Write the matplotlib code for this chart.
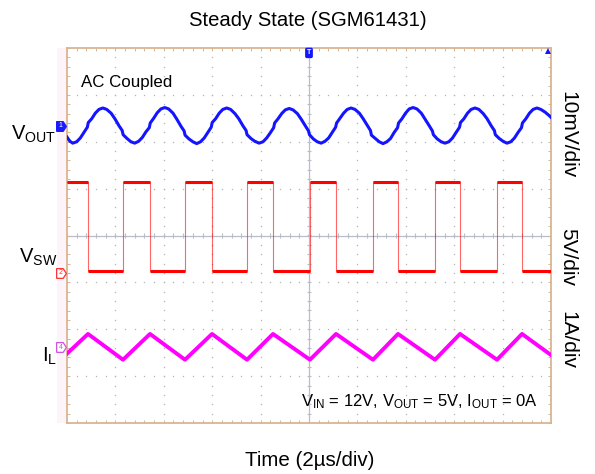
import numpy as np
import matplotlib
matplotlib.use("Agg")
import matplotlib.pyplot as plt
from matplotlib.patches import Rectangle
from matplotlib.ticker import MultipleLocator

plt.rcParams['font.family'] = ['Liberation Sans', 'DejaVu Sans']
plt.rcParams['mathtext.fontset'] = 'custom'
plt.rcParams['mathtext.rm'] = 'Liberation Sans'
plt.rcParams['mathtext.it'] = 'Liberation Sans:italic'

W, H = 595, 474

# scope screen: x in divisions (2us/div), y in divisions (8 div tall, 0 = centre)
vout_t = [0.0, 0.06,
          0.12, 0.20, 0.275, 0.35, 0.42, 0.44, 0.51, 0.585, 0.66, 0.74, 0.82, 0.91, 0.99, 1.075, 1.14, 1.16, 1.24, 1.32,
          1.40, 1.48, 1.555, 1.63, 1.70, 1.72, 1.79, 1.865, 1.94, 2.02, 2.10, 2.19, 2.27, 2.355, 2.42, 2.44, 2.52, 2.60,
          2.68, 2.76, 2.835, 2.91, 2.98, 3.00, 3.07, 3.145, 3.22, 3.30, 3.38, 3.47, 3.55, 3.635, 3.70, 3.72, 3.80, 3.88,
          3.97, 4.05, 4.125, 4.20, 4.27, 4.29, 4.36, 4.435, 4.51, 4.59, 4.67, 4.76, 4.84, 4.925, 4.99, 5.01, 5.09, 5.17,
          5.25, 5.33, 5.405, 5.48, 5.55, 5.57, 5.64, 5.715, 5.79, 5.87, 5.95, 6.04, 6.12, 6.205, 6.27, 6.29, 6.37, 6.45,
          6.53, 6.61, 6.685, 6.76, 6.83, 6.85, 6.92, 6.995, 7.07, 7.15, 7.23, 7.32, 7.40, 7.485, 7.55, 7.57, 7.65, 7.73,
          7.81, 7.89, 7.965, 8.04, 8.11, 8.13, 8.20, 8.275, 8.35, 8.43, 8.51, 8.60, 8.68, 8.765, 8.83, 8.85, 8.93, 9.01,
          9.09, 9.17, 9.245, 9.32, 9.39, 9.41, 9.48, 9.555, 9.63, 9.71, 9.79, 9.88, 9.96, 10.0]
vout_v = [2.10, 2.01,
          1.97, 2.00, 2.08, 2.20, 2.31, 2.41, 2.49, 2.61, 2.69, 2.72, 2.69, 2.61, 2.49, 2.34, 2.24, 2.15, 2.07, 2.00,
          1.97, 2.01, 2.09, 2.21, 2.30, 2.40, 2.50, 2.62, 2.70, 2.73, 2.70, 2.61, 2.48, 2.33, 2.23, 2.14, 2.06, 2.00,
          1.96, 2.00, 2.08, 2.20, 2.31, 2.41, 2.49, 2.61, 2.69, 2.72, 2.69, 2.60, 2.49, 2.34, 2.24, 2.15, 2.07, 2.01,
          1.97, 2.00, 2.08, 2.19, 2.30, 2.40, 2.49, 2.60, 2.68, 2.71, 2.68, 2.60, 2.48, 2.34, 2.23, 2.15, 2.06, 2.00,
          1.97, 2.01, 2.08, 2.20, 2.31, 2.40, 2.50, 2.61, 2.69, 2.72, 2.69, 2.61, 2.49, 2.35, 2.24, 2.14, 2.07, 2.00,
          1.96, 2.00, 2.07, 2.20, 2.30, 2.40, 2.49, 2.61, 2.70, 2.73, 2.70, 2.61, 2.48, 2.34, 2.23, 2.15, 2.06, 2.00,
          1.97, 2.00, 2.08, 2.20, 2.31, 2.41, 2.49, 2.61, 2.69, 2.72, 2.69, 2.60, 2.49, 2.34, 2.24, 2.15, 2.07, 2.01,
          1.97, 2.00, 2.08, 2.20, 2.30, 2.40, 2.49, 2.61, 2.69, 2.72, 2.69, 2.63, 2.56, 2.52]

vsw_fall = [0.434, 1.715, 2.996, 4.256, 5.558, 6.839, 8.12, 9.401]
vsw_rise = [1.157, 2.438, 3.719, 5.02, 6.322, 7.603, 8.884]
vsw_high = 1.14
vsw_low = -0.76

il_t = [0.0, 0.434, 1.157, 1.715, 2.438, 2.996, 3.719, 4.256, 5.02,
        5.558, 6.322, 6.839, 7.603, 8.12, 8.884, 9.401, 10.0]
il_v = [-2.52, -2.10, -2.65, -2.10, -2.65, -2.10, -2.65, -2.10, -2.65,
        -2.10, -2.65, -2.10, -2.65, -2.10, -2.65, -2.10, -2.55]

ch_names = ["1", "2", "4"]
ch_levels = [2.34, -0.80, -2.38]
ch_colors = ["#1a1aff", "#ff3030", "#d050e0"]
ch_filled = [True, False, False]

BLUE = "#1414ff"
RED = "#ff0000"
MAG = "#ff00ff"
FRAME = "#dab592"
GRID = "#b4b4b4"

fig = plt.figure(figsize=(W / 100, H / 100), dpi=100)
fig.patches.append(Rectangle((57 / W, 1 - 423 / H), 10 / W, 375 / H, transform=fig.transFigure,
                             facecolor="#fdf4fa", edgecolor="none", zorder=-1))
ax = fig.add_axes([67 / W, 1 - 423 / H, 484 / W, 375 / H])
ax.set_xlim(0, 10)
ax.set_ylim(-4, 4)

# dotted graticule
gx, gy = np.meshgrid([1, 2, 3, 4, 6, 7, 8, 9], np.arange(-4, 4.01, 0.2))
ax.plot(gx.ravel(), gy.ravel(), ls="none", marker="s", ms=0.9, mew=0, color=GRID, zorder=1)
gx, gy = np.meshgrid(np.arange(0, 10.01, 0.2), [-3, -2, -1, 1, 2, 3])
ax.plot(gx.ravel(), gy.ravel(), ls="none", marker="s", ms=0.9, mew=0, color=GRID, zorder=1)

# centre crosshair with tick marks
ax.axhline(0, color="#b9bdc9", lw=0.9, zorder=1)
ax.axvline(5, color="#b9bdc9", lw=0.9, zorder=1)
ax.vlines(np.arange(0, 10.01, 0.2), -0.06, 0.06, color="#b9bdc9", lw=0.8, zorder=1)
ax.hlines(np.arange(-4, 4.01, 0.2), 4.96, 5.04, color="#b9bdc9", lw=0.8, zorder=1)

for s in ax.spines.values():
    s.set_color(FRAME)
    s.set_linewidth(1.3)
ax.xaxis.set_major_locator(MultipleLocator(0.2))
ax.yaxis.set_major_locator(MultipleLocator(0.2))
ax.tick_params(which="both", direction="in", top=True, right=True, length=2.5,
               width=0.7, color=FRAME, labelbottom=False, labelleft=False)

# VSW: thin edges, thick noisy levels
edges = sorted([(t, vsw_low) for t in vsw_fall] + [(t, vsw_high) for t in vsw_rise])
sx, sy = [0.0], [vsw_high]
level = vsw_high
for t, new in edges:
    sx += [t, t]
    sy += [level, new]
    level = new
sx.append(10.0)
sy.append(level)
ax.plot(sx, sy, color=RED, lw=0.8, alpha=0.6, zorder=3)
for i in range(len(sx) - 1):
    if sy[i] == sy[i + 1] and sx[i + 1] > sx[i]:
        ax.plot([sx[i], sx[i + 1]], [sy[i], sy[i + 1]], color=RED, lw=2.2, zorder=3,
                solid_capstyle="butt")

ax.plot(vout_t, vout_v, color=BLUE, lw=2.2, zorder=4, solid_joinstyle="round")
ax.plot(il_t, il_v, color=MAG, lw=2.8, zorder=4)

# channel markers just left of the screen
pent = [(-1, -1), (0.35, -1), (1, 0), (0.35, 1), (-1, 1), (-1, -1)]
for name, yv, col, filled in zip(ch_names, ch_levels, ch_colors, ch_filled):
    ax.plot(-0.12, yv, marker=pent, ms=7, mec=col, mew=0.9,
            mfc=col if filled else "white", clip_on=False, zorder=6)
    ax.text(-0.13, yv, name, ha="center", va="center", fontsize=5,
            color="white" if filled else col, clip_on=False, zorder=7)
ax.text(5, 3.97, "T", ha="center", va="top", fontsize=5, color="white", fontweight="bold",
        bbox=dict(boxstyle="round,pad=0.15", fc=BLUE, ec=BLUE), zorder=6)
ax.plot(9.94, 3.93, marker="^", ms=4.5, color=BLUE, mew=0, zorder=6)

# texts
fig.text(308 / W, 1 - 20 / H, "Steady State (SGM61431)", fontsize=14.6, ha="center", va="center")
fig.text(310 / W, 1 - 461 / H, "Time (2µs/div)", fontsize=14.8, ha="center", va="center")
fig.text(81 / W, 1 - 82 / H, "AC Coupled", fontsize=12.2, ha="left", va="center")
fig.text(11 / W, 1 - 140 / H, r"$\mathrm{V_{OUT}}$", fontsize=14.5, ha="left", va="baseline")
fig.text(19 / W, 1 - 263 / H, r"$\mathrm{V_{SW}}$", fontsize=14.5, ha="left", va="baseline")
fig.text(42 / W, 1 - 362 / H, r"$\mathrm{I_{L}}$", fontsize=14.5, ha="left", va="baseline")
fig.text(538 / W, 1 - 406 / H,
         r"$\mathrm{V_{IN}}$ = 12V, $\mathrm{V_{OUT}}$ = 5V, $\mathrm{I_{OUT}}$ = 0A",
         fontsize=12, ha="right", va="baseline")
fig.text(568 / W, 1 - 135 / H, "10mV/div", fontsize=15, rotation=270, ha="center", va="center")
fig.text(568 / W, 1 - 257 / H, "5V/div", fontsize=15, rotation=270, ha="center", va="center")
fig.text(568 / W, 1 - 340 / H, "1A/div", fontsize=15, rotation=270, ha="center", va="center")

fig.savefig("out.png", dpi=100)
